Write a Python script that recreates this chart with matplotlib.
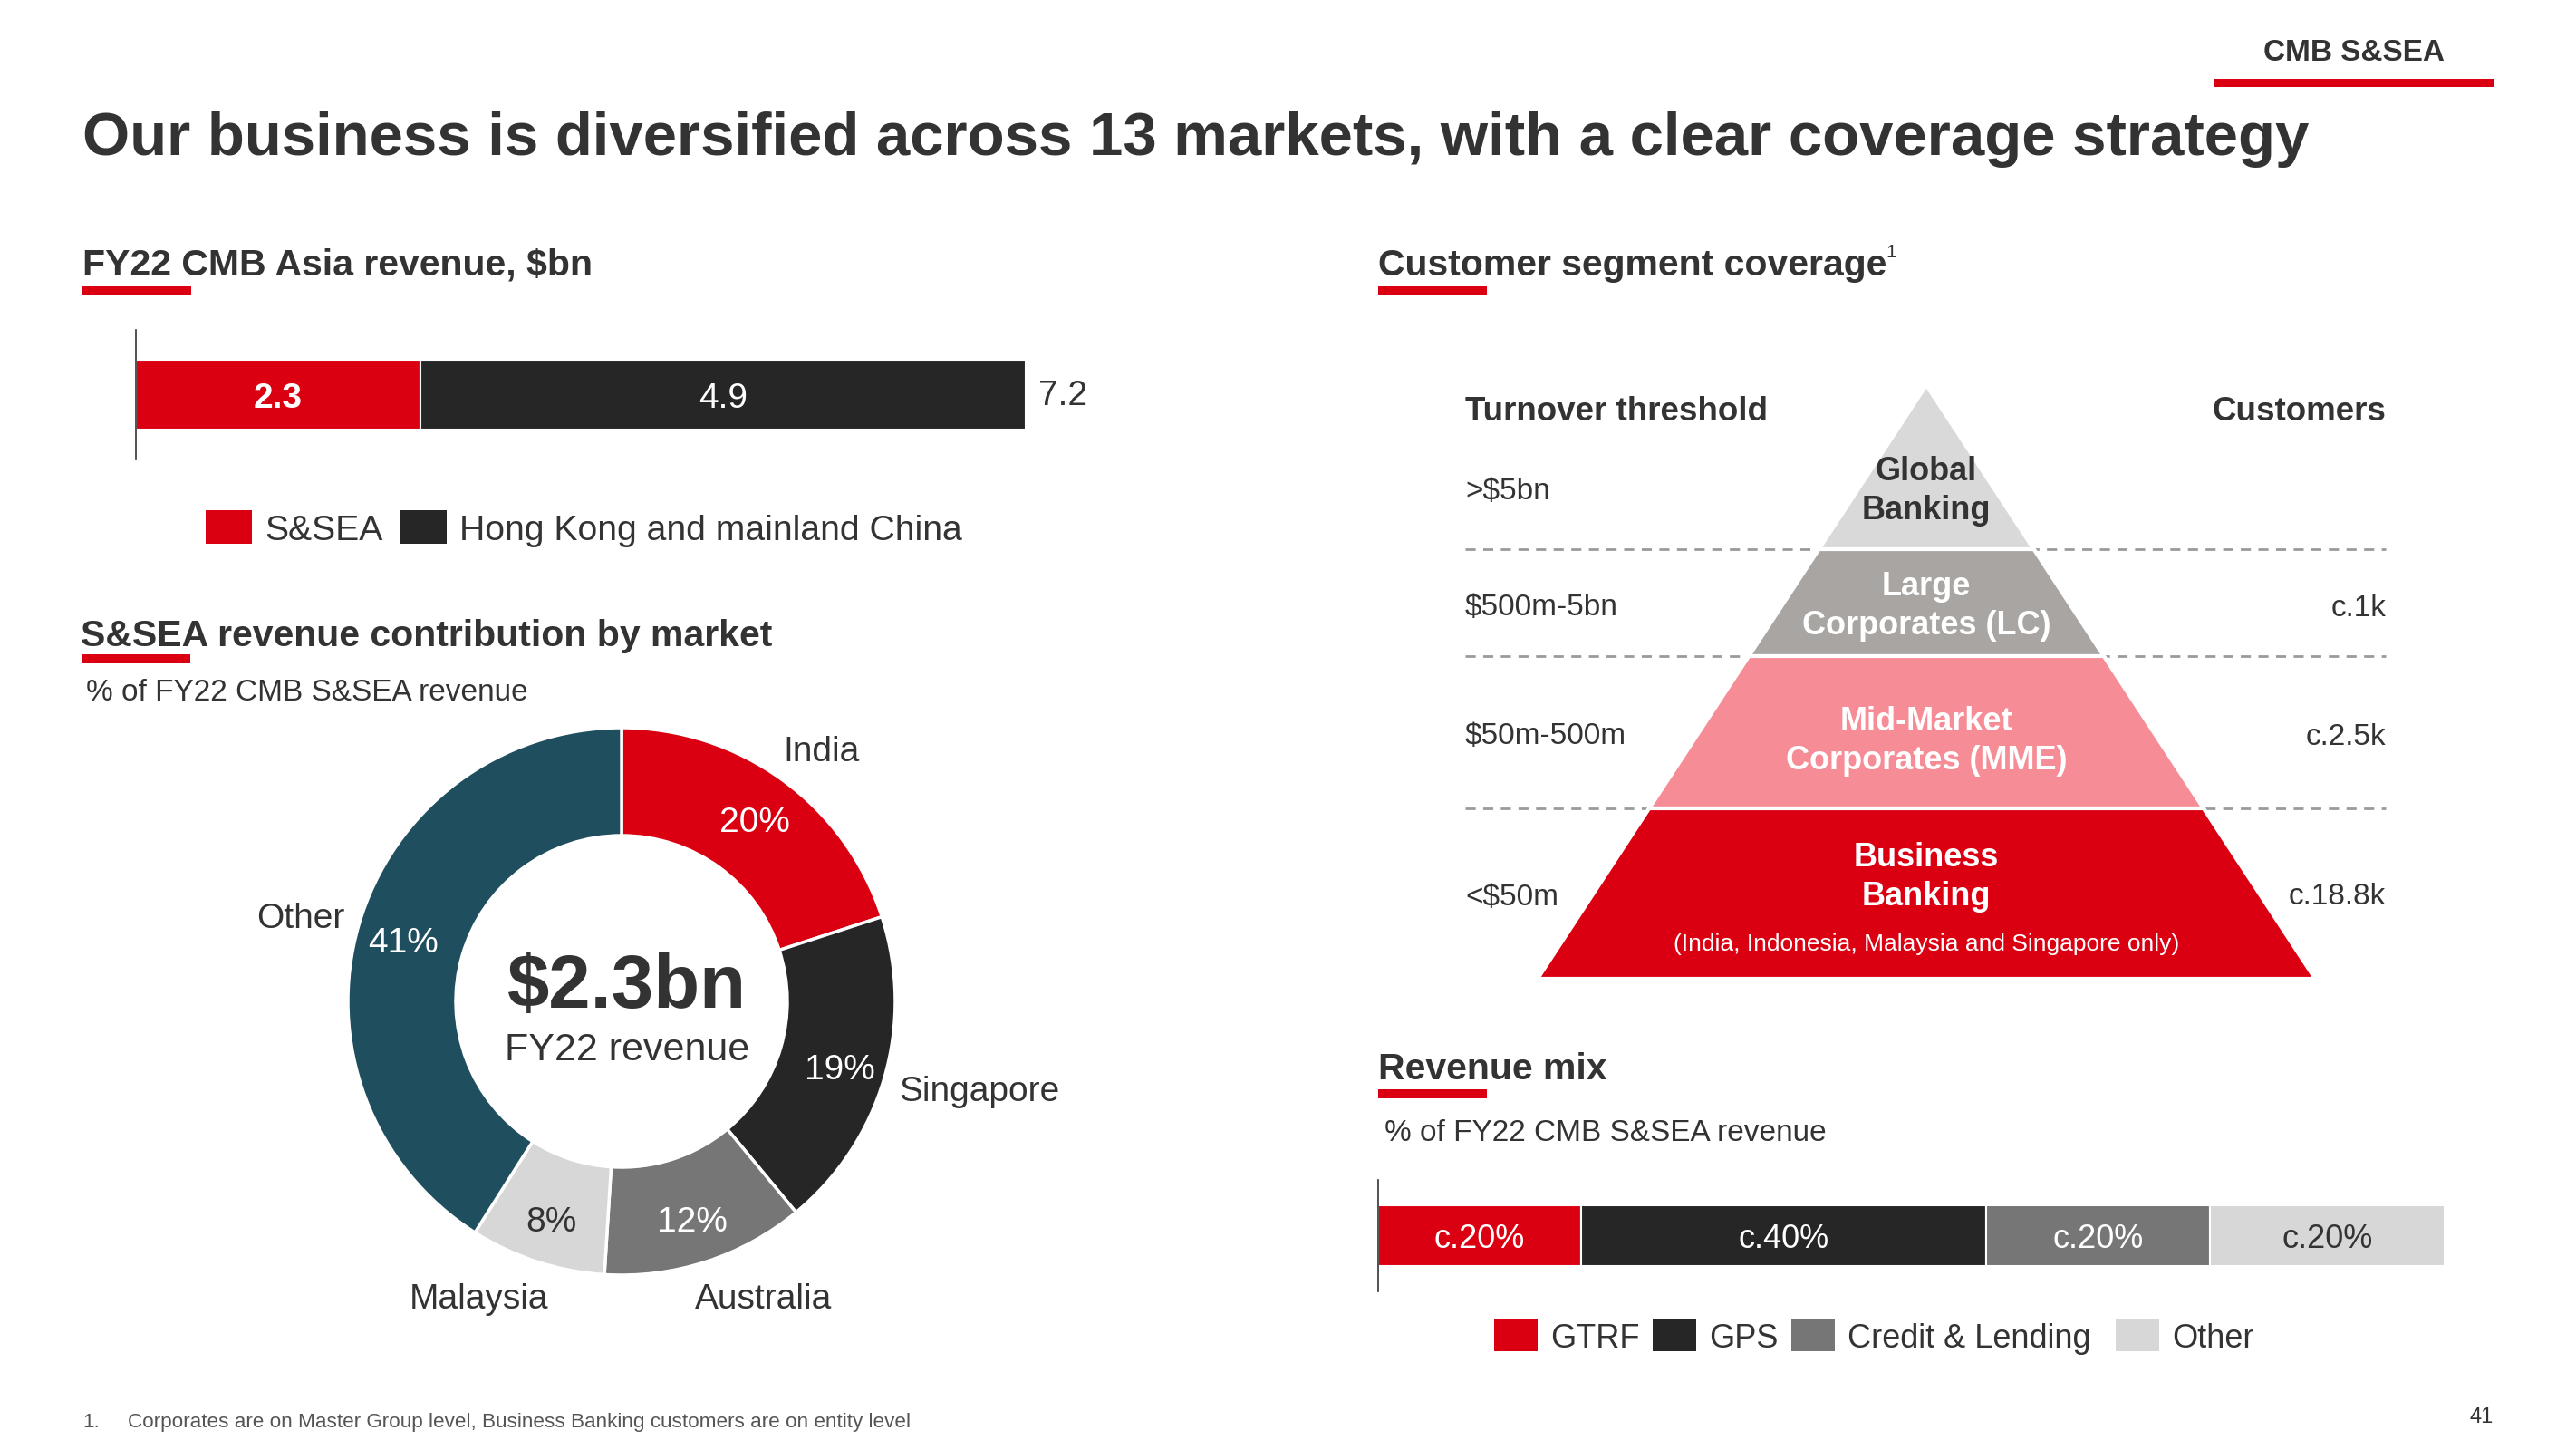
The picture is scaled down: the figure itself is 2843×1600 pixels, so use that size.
import matplotlib
matplotlib.use("Agg")
import matplotlib.pyplot as plt
import numpy as np
from matplotlib.patches import Polygon, Rectangle

plt.rcParams['font.family'] = ['Liberation Sans', 'DejaVu Sans']

# Colours
RED = '#db0011'
BLACK = '#262626'
MIDGREY = '#767676'
LIGHTGREY = '#d7d7d7'
TEAL = '#1f4e5f'
TXT = '#333333'

# Data
asia_regions = ["S&SEA", "Hong Kong and mainland China"]
asia_revenue = [2.3, 4.9]
asia_colors = [RED, BLACK]

markets = ["India", "Singapore", "Australia", "Malaysia", "Other"]
market_share = [20, 19, 12, 8, 41]
market_colors = [RED, BLACK, MIDGREY, LIGHTGREY, TEAL]

tiers = ["Global\nBanking", "Large\nCorporates (LC)", "Mid-Market\nCorporates (MME)", "Business\nBanking"]
thresholds = [">$5bn", "$500m-5bn", "$50m-500m", "<$50m"]
customers = ["", "c.1k", "c.2.5k", "c.18.8k"]
tier_colors = ['#d9d9d9', '#a8a5a2', '#f68d96', RED]

mix_streams = ["GTRF", "GPS", "Credit & Lending", "Other"]
mix_share = [19, 38, 21, 22]
mix_labels = ["c.20%", "c.40%", "c.20%", "c.20%"]
mix_colors = [RED, BLACK, MIDGREY, LIGHTGREY]

W, H = 2843, 1600
fig = plt.figure(figsize=(W / 100, H / 100), dpi=100)


# Axes from a pixel box (top-left origin)
def px_axes(x0, y0, x1, y1):
    return fig.add_axes([x0 / W, 1 - y1 / H, (x1 - x0) / W, (y1 - y0) / H])


# Overlay in pixel coordinates for the slide texts
ov = fig.add_axes([0, 0, 1, 1])
ov.set_xlim(0, W)
ov.set_ylim(H, 0)
ov.axis('off')


def heading(x, y, text, ux0, ux1, uy):
    ov.text(x, y, text, fontsize=29.5, fontweight='bold', color=TXT, va='baseline', ha='left')
    ov.add_patch(Rectangle((ux0, uy - 5), ux1 - ux0, 10, color=RED, lw=0))


# Header and title
ov.text(2598, 67, "CMB S&SEA", fontsize=24, fontweight='bold', color=TXT, ha='center', va='baseline')
ov.add_patch(Rectangle((2444, 87), 308, 9, color=RED, lw=0))
ov.text(91, 171, "Our business is diversified across 13 markets, with a clear coverage strategy",
        fontsize=48.3, fontweight='bold', color=TXT, ha='left', va='baseline')

# ---- Top bar: FY22 CMB Asia revenue ----
heading(91, 304, "FY22 CMB Asia revenue, $bn", 91, 211, 321)
ax1 = px_axes(150, 364, 1132, 507)
total = sum(asia_revenue)
ax1.set_xlim(0, total)
ax1.set_ylim(-1, 1)
left = 0
for i, v in enumerate(asia_revenue):
    ax1.barh(0, v, left=left, height=1.077, color=asia_colors[i], edgecolor='white', linewidth=1.5)
    ax1.text(left + v / 2, -0.06, f"{v}", ha='center', va='center', color='white', fontsize=28,
             fontweight='bold' if i == 0 else 'normal')
    left += v
ax1.text(total + 0.1, -0.02, f"{total:.1f}", ha='left', va='center', color=TXT, fontsize=28)
for s in ['top', 'right', 'bottom']:
    ax1.spines[s].set_visible(False)
ax1.spines['left'].set_color(TXT)
ax1.spines['left'].set_linewidth(1.2)
ax1.set_xticks([])
ax1.set_yticks([])
ax1.patch.set_alpha(0)

# legend
lx = [227, 442]
for i, name in enumerate(asia_regions):
    ov.add_patch(Rectangle((lx[i], 563), 51, 37, color=asia_colors[i], lw=0))
    ov.text(lx[i] + 65, 596, name, fontsize=28.2, color=TXT, va='baseline', ha='left')

# ---- Donut ----
heading(89, 713, "S&SEA revenue contribution by market", 91, 210, 727)
ov.text(95, 773, "% of FY22 CMB S&SEA revenue", fontsize=24, color=TXT, va='baseline', ha='left')

cx, cy, R = 686, 1105, 302
ax2 = px_axes(cx - R, cy - R, cx + R, cy + R)
wedges, _ = ax2.pie(market_share, colors=market_colors, startangle=90, counterclock=False,
                    radius=1, wedgeprops=dict(width=0.394, edgecolor='white', linewidth=2.5))
ax2.set_xlim(-1, 1)
ax2.set_ylim(-1, 1)
ax2.set_aspect('equal')
ax2.axis('off')
for i, w in enumerate(wedges):
    mid = np.deg2rad((w.theta1 + w.theta2) / 2)
    col = TXT if market_colors[i] == LIGHTGREY else 'white'
    ax2.text(0.83 * np.cos(mid), 0.83 * np.sin(mid) - 0.02, f"{market_share[i]}%", ha='center',
             va='center', color=col, fontsize=28)
name_pos = [(0.73, 0.91, 'center'), (1.015, -0.33, 'left'), (0.52, -1.09, 'center'),
            (-0.52, -1.09, 'center'), (-1.01, 0.30, 'right')]
for i, (x, y, ha) in enumerate(name_pos):
    ax2.text(x, y, markets[i], ha=ha, va='center', color=TXT, fontsize=28, clip_on=False)
ax2.text(0.02, 0.05, "$2.3bn", ha='center', va='center', fontsize=60, fontweight='bold', color=TXT)
ax2.text(0.02, -0.18, "FY22 revenue", ha='center', va='center', fontsize=31, color=TXT)

# ---- Pyramid ----
heading(1521, 304, "Customer segment coverage", 1521, 1641, 321)
ov.text(2081, 284, "1", fontsize=15, color=TXT, va='baseline', ha='left')

apex_x, apex_y, base_y, base_hw = 2126, 425, 1080, 429
bounds = [apex_y, 606, 724, 892, base_y]


def hw(y):
    return base_hw * (y - apex_y) / (base_y - apex_y)


for y in bounds[1:4]:
    ov.plot([1617, 2633], [y, y], color='#9a9a9a', lw=2, ls=(0, (4, 3)), zorder=1)
for i in range(4):
    y0, y1 = bounds[i], bounds[i + 1]
    pts = [(apex_x - hw(y0), y0), (apex_x + hw(y0), y0), (apex_x + hw(y1), y1), (apex_x - hw(y1), y1)]
    ov.add_patch(Polygon(pts, closed=True, facecolor=tier_colors[i], edgecolor='white', lw=3, zorder=2))

tier_text_y = [542, 669, 818, 968]
for i, t in enumerate(tiers):
    ov.text(apex_x, tier_text_y[i], t, ha='center', va='center', fontsize=26, fontweight='bold',
            color=TXT if i == 0 else 'white', linespacing=1.3, zorder=3)
ov.text(apex_x, 1042, "(India, Indonesia, Malaysia and Singapore only)", ha='center', va='center',
        fontsize=19, color='white', zorder=3)

ov.text(1617, 455, "Turnover threshold", fontsize=26.5, fontweight='bold', color=TXT, va='center', ha='left')
ov.text(2633, 455, "Customers", fontsize=26.5, fontweight='bold', color=TXT, va='center', ha='right')
row_y = [543, 671, 813, 990]
for i in range(4):
    ov.text(1617, row_y[i], thresholds[i], fontsize=24, color=TXT, va='center', ha='left')
    ov.text(2633, row_y[i], customers[i], fontsize=24, color=TXT, va='center', ha='right')

# ---- Revenue mix ----
heading(1521, 1191, "Revenue mix", 1521, 1641, 1207)
ov.text(1528, 1259, "% of FY22 CMB S&SEA revenue", fontsize=24, color=TXT, va='baseline', ha='left')

ax3 = px_axes(1521, 1302, 2698, 1425)
ax3.set_xlim(0, sum(mix_share))
ax3.set_ylim(-1, 1)
left = 0
for i, v in enumerate(mix_share):
    ax3.barh(0, v, left=left, height=1.09, color=mix_colors[i], edgecolor='white', linewidth=1.5)
    ax3.text(left + v / 2, -0.07, mix_labels[i], ha='center', va='center', fontsize=26,
             color=TXT if mix_colors[i] == LIGHTGREY else 'white')
    left += v
for s in ['top', 'right', 'bottom']:
    ax3.spines[s].set_visible(False)
ax3.spines['left'].set_color(TXT)
ax3.spines['left'].set_linewidth(1.2)
ax3.set_xticks([])
ax3.set_yticks([])
ax3.patch.set_alpha(0)

mx = [1649, 1824, 1977, 2335]
for i, name in enumerate(mix_streams):
    ov.add_patch(Rectangle((mx[i], 1456), 48, 35, color=mix_colors[i], lw=0))
    ov.text(mx[i] + 62, 1487, name, fontsize=26, color=TXT, va='baseline', ha='left')

# Footnote and page number
ov.text(91, 1575, "1.", fontsize=16.2, color='#555555', va='baseline', ha='left')
ov.text(141, 1575, "Corporates are on Master Group level, Business Banking customers are on entity level",
        fontsize=16.2, color='#555555', va='baseline', ha='left')
ov.text(2752, 1570, "41", fontsize=17, color=TXT, va='baseline', ha='right')

fig.savefig("out.png", dpi=100, facecolor='white')
